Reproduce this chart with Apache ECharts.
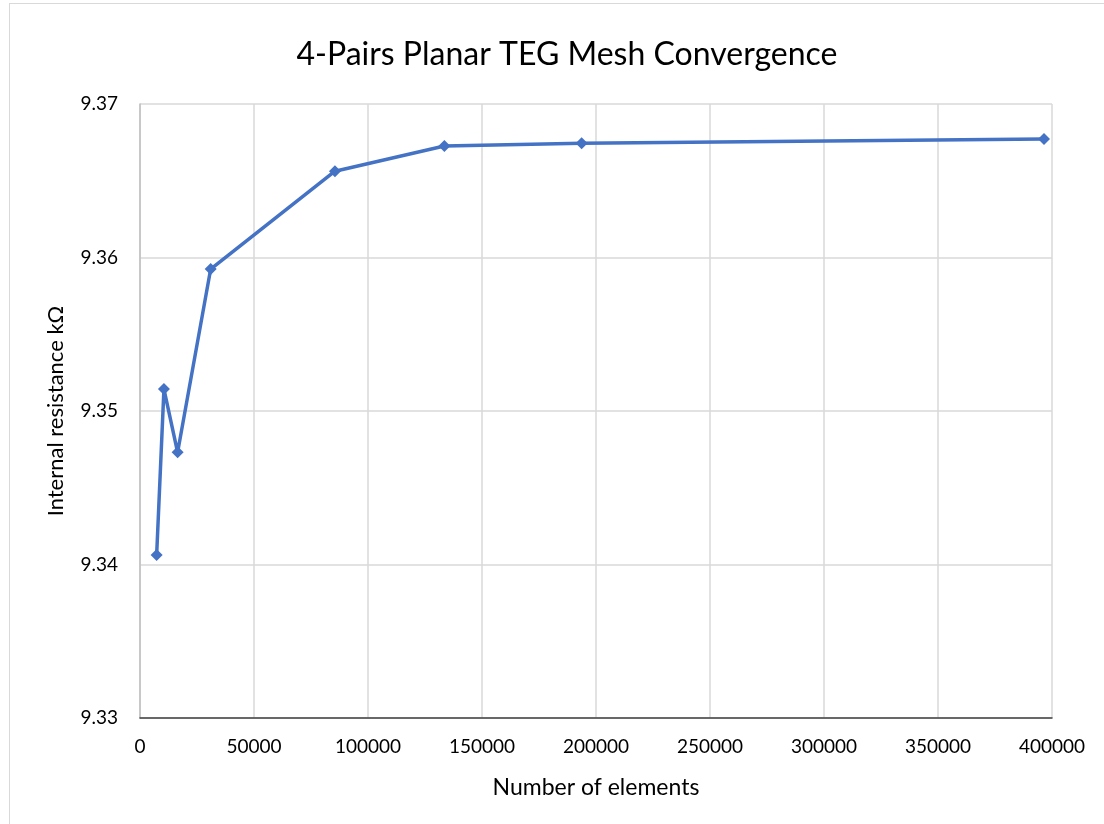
<!DOCTYPE html>
<html>
<head>
<meta charset="utf-8">
<script src="https://cdn.jsdelivr.net/npm/echarts@6/dist/echarts.min.js"></script>
<style>
html,body{margin:0;padding:0;background:#fff;}
#wrap{position:absolute;left:9px;top:3px;width:1100px;height:825px;border:1px solid #d9d9d9;box-sizing:border-box;}
#c{position:absolute;left:0;top:0;width:1104px;height:824px;}
</style>
</head>
<body>
<div id="wrap"></div>
<div id="c"></div>
<script>
const elements = [7300, 10500, 16500, 31000, 85500, 133500, 193700, 396500];
const resistance = [9.34062, 9.35143, 9.34731, 9.35925, 9.36562, 9.36726, 9.36744, 9.36772];
const titleText = '4-Pairs Planar TEG Mesh Convergence';
const xName = 'Number of elements';
const yName = 'Internal resistance kΩ';

const chart = echarts.init(document.getElementById('c'));
const font = 'Lato, "Noto Sans", sans-serif';
chart.setOption({
  animation: false,
  title: {
    text: titleText, left: 562, textAlign: 'center', top: 34,
    textStyle: {fontFamily: font, fontSize: 32, fontWeight: 'normal', color: '#000'}
  },
  grid: {left: 140, right: 52, top: 104, bottom: 106},
  xAxis: {
    type: 'value', min: 0, max: 400000, interval: 50000,
    name: xName, nameLocation: 'middle', nameGap: 58,
    nameTextStyle: {fontFamily: font, fontSize: 23, color: '#000'},
    axisLine: {show: true, lineStyle: {color: '#404040', width: 1.5}},
    axisTick: {show: false},
    axisLabel: {fontFamily: font, fontSize: 19, color: '#000', margin: 19,
      formatter: v => String(v)},
    splitLine: {show: true, lineStyle: {color: '#d9d9d9', width: 1.5}}
  },
  yAxis: {
    type: 'value', min: 9.33, max: 9.37, interval: 0.01,
    name: yName, nameLocation: 'middle', nameGap: 73,
    nameTextStyle: {fontFamily: font, fontSize: 22, color: '#000'},
    axisLine: {show: true, lineStyle: {color: '#bfbfbf', width: 1.5}},
    axisTick: {show: false},
    axisLabel: {fontFamily: font, fontSize: 19, color: '#000', margin: 22,
      formatter: v => v.toFixed(2)},
    splitLine: {show: true, lineStyle: {color: '#d9d9d9', width: 1.5}}
  },
  series: [{
    type: 'line',
    data: elements.map((x, i) => [x, resistance[i]]),
    symbol: 'diamond', symbolSize: 12,
    lineStyle: {color: '#4472C4', width: 3.5},
    itemStyle: {color: '#4472C4'}
  }]
});
</script>
</body>
</html>
